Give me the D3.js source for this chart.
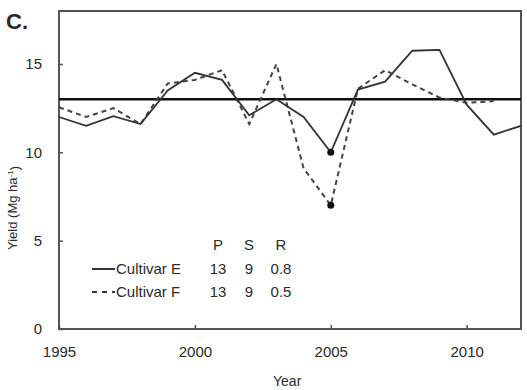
<!DOCTYPE html>
<html>
<head>
<meta charset="utf-8">
<script src="https://cdn.jsdelivr.net/npm/d3@7"></script>
<style>
  body { margin: 0; background: #fff; }
  text { font-family: "Liberation Sans", Arial, sans-serif; fill: #2a2a2a; }
</style>
</head>
<body>
<svg id="chart" width="527" height="390"></svg>
<script>
// values
const yearsE = [1995, 1996, 1997, 1998, 1999, 2000, 2001, 2002, 2003, 2004, 2005, 2006, 2007, 2008, 2009, 2010, 2011, 2012];
const cultivarE = [12.0, 11.5, 12.05, 11.6, 13.5, 14.5, 14.1, 12.1, 13.0, 12.0, 10.0, 13.55, 14.0, 15.75, 15.8, 12.7, 11.0, 11.5];
const yearsF = [1995, 1996, 1997, 1998, 1999, 2000, 2001, 2002, 2003, 2004, 2005, 2006, 2007, 2008, 2009, 2010, 2011];
const cultivarF = [12.55, 12.0, 12.5, 11.6, 13.9, 14.1, 14.65, 11.6, 15.0, 9.1, 7.0, 13.6, 14.65, 13.85, 13.1, 12.8, 12.9];
const meanLine = 13;
const markedYear = 2005;
const xTicks = [1995, 2000, 2005, 2010];
const yTicks = [0, 5, 10, 15];
const legendHead = ['P', 'S', 'R'];
const legendRows = [
    { name: 'Cultivar E', dash: null, stats: ['13', '9', '0.8'] },
    { name: 'Cultivar F', dash: '5,5', stats: ['13', '9', '0.5'] },
];

const svg = d3.select('#chart');
const m = { left: 59, top: 11, right: 6, bottom: 61 };
const w = 527 - m.left - m.right;
const h = 390 - m.top - m.bottom;

const x = d3.scaleLinear().domain([1995, 2012]).range([0, w]);
const y = d3.scaleLinear().domain([0, 18]).range([h, 0]);

const g = svg.append('g').attr('transform', `translate(${m.left},${m.top})`);

// frame
g.append('rect')
    .attr('width', w)
    .attr('height', h)
    .attr('fill', 'none')
    .attr('stroke', '#555')
    .attr('stroke-width', 2);

// ticks (inside)
const xAxis = g.append('g')
    .attr('transform', `translate(0,${h})`)
    .call(d3.axisBottom(x).tickValues(xTicks).tickFormat(d3.format('d')).tickSize(-4).tickPadding(17));
const yAxis = g.append('g')
    .call(d3.axisLeft(y).tickValues(yTicks).tickSize(-4).tickPadding(17));
[xAxis, yAxis].forEach((a) => {
    a.select('.domain').remove();
    a.selectAll('line').attr('stroke', '#555').attr('stroke-width', 1.5);
    a.selectAll('text').style('font-size', '15px').attr('fill', '#2a2a2a');
});

// mean line
g.append('line')
    .attr('x1', 0)
    .attr('x2', w)
    .attr('y1', y(meanLine))
    .attr('y2', y(meanLine))
    .attr('stroke', '#111')
    .attr('stroke-width', 2.5);

const line = d3.line().x((d) => x(d[0])).y((d) => y(d[1]));

g.append('path')
    .datum(d3.zip(yearsF, cultivarF))
    .attr('d', line)
    .attr('fill', 'none')
    .attr('stroke', '#444')
    .attr('stroke-width', 2)
    .attr('stroke-dasharray', '5,4');

g.append('path')
    .datum(d3.zip(yearsE, cultivarE))
    .attr('d', line)
    .attr('fill', 'none')
    .attr('stroke', '#333')
    .attr('stroke-width', 1.8);

// dots at 2005
const dots = [
    [markedYear, cultivarE[yearsE.indexOf(markedYear)]],
    [markedYear, cultivarF[yearsF.indexOf(markedYear)]],
];
g.selectAll('circle.mark')
    .data(dots)
    .join('circle')
    .attr('class', 'mark')
    .attr('cx', (d) => x(d[0]))
    .attr('cy', (d) => y(d[1]))
    .attr('r', 3.5)
    .attr('fill', '#111');

// legend
const statX = [218, 249, 281];
const rowY = [269, 292];
svg.selectAll('text.head')
    .data(legendHead)
    .join('text')
    .attr('class', 'head')
    .attr('x', (d, i) => statX[i])
    .attr('y', 245)
    .attr('dy', '0.35em')
    .attr('text-anchor', 'middle')
    .style('font-size', '15px')
    .text((d) => d);

legendRows.forEach((r, i) => {
    svg.append('line')
        .attr('x1', 92)
        .attr('x2', 115)
        .attr('y1', rowY[i])
        .attr('y2', rowY[i])
        .attr('stroke', '#333')
        .attr('stroke-width', 2)
        .attr('stroke-dasharray', r.dash);
    svg.append('text')
        .attr('x', 116)
        .attr('y', rowY[i])
        .attr('dy', '0.35em')
        .style('font-size', '15px')
        .text(r.name);
    svg.selectAll(null)
        .data(r.stats)
        .join('text')
        .attr('x', (d, j) => statX[j])
        .attr('y', rowY[i])
        .attr('dy', '0.35em')
        .attr('text-anchor', 'middle')
        .style('font-size', '15px')
        .text((d) => d);
});

// titles
svg.append('text')
    .attr('x', 6)
    .attr('y', 29)
    .style('font-size', '22px')
    .style('font-weight', 'bold')
    .text('C.');

svg.append('text')
    .attr('x', 273)
    .attr('y', 381)
    .attr('dy', '0.35em')
    .style('font-size', '14px')
    .text('Year');

const yl = svg.append('text')
    .attr('transform', 'translate(12,208) rotate(-90)')
    .attr('text-anchor', 'middle')
    .attr('dy', '0.35em')
    .style('font-size', '13px');
yl.append('tspan').text('Yield (Mg ha');
yl.append('tspan').attr('dy', '-0.4em').style('font-size', '8px').text('-1');
yl.append('tspan').attr('dy', '0.4em').text(')');
</script>
</body>
</html>
